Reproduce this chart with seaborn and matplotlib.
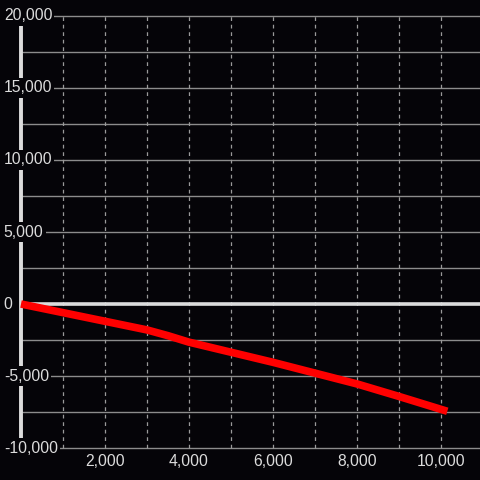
import pandas as pd
import matplotlib
matplotlib.use("Agg")
import matplotlib.pyplot as plt
import seaborn as sns

# data
x_vals = [0, 1000, 2000, 3000, 3500, 4000, 5000, 6000, 7000, 8000, 9000, 10150]
y_vals = [0, -600, -1200, -1800, -2200, -2650, -3350, -4050, -4800, -5550, -6420, -7450]
y_ticks = [-10000, -5000, 0, 5000, 10000, 15000, 20000]
y_minor = [-7500, -2500, 2500, 7500, 12500, 17500]
x_ticks = [2000, 4000, 6000, 8000, 10000]
x_grid = [1000, 2000, 3000, 4000, 5000, 6000, 7000, 8000, 9000, 10000]

bg = "#050408"
fg = "#dcdcdc"

sns.set_style("dark", {"axes.facecolor": bg, "figure.facecolor": bg})
plt.rcParams["font.family"] = ["Liberation Sans", "DejaVu Sans"]

df = pd.DataFrame({"x": x_vals, "y": y_vals})

fig = plt.figure(figsize=(4.8, 4.8), dpi=100)
ax = fig.add_axes([0, 0, 1, 1])
ax.set_xlim(-500, 10929)
ax.set_ylim(-12222, 21111)
ax.axis("off")

xmax = 10929
# horizontal grid
for v in y_ticks + y_minor:
    ax.hlines(v, 0, xmax, color="#8c8c8c", lw=1, zorder=1)
# vertical dashed grid
for v in x_grid:
    ax.vlines(v, -10000, 20000, color="#9a9a9a", lw=0.9, linestyles=(0, (3, 3)), zorder=1)

# zero line and y spine
ax.hlines(0, 0, xmax, color=fg, lw=2.6, zorder=2)
ax.vlines(0, -10000, 20000, color=fg, lw=2.8, zorder=2)

sns.lineplot(data=df, x="x", y="y", ax=ax, color="#ff0000", lw=5.5,
             zorder=3, solid_capstyle="butt", legend=False)

# y labels sitting on the gridlines
for v in y_ticks:
    ax.text(-410, v, f"{v:,}", color=fg, fontsize=11.3, ha="left", va="center",
            zorder=4, bbox=dict(facecolor=bg, edgecolor="none", pad=1.5))

# x labels
for v in x_ticks:
    ax.text(v, -10903, f"{v:,}", color=fg, fontsize=11.3, ha="center", va="center", zorder=4)

fig.savefig("out.png", dpi=100, facecolor=bg)
